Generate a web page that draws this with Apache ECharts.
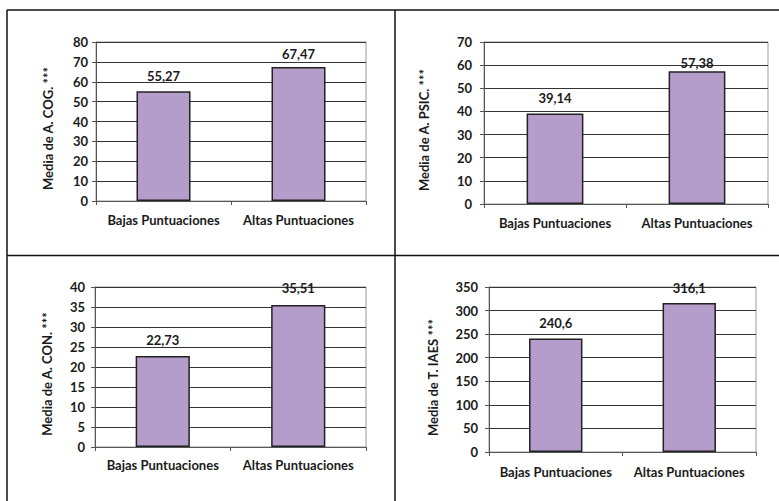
<!DOCTYPE html>
<html>
<head>
<meta charset="utf-8">
<script src="https://cdn.jsdelivr.net/npm/echarts@6/dist/echarts.min.js"></script>
<style>
html,body{margin:0;padding:0;background:#fff;}
#c{width:779px;height:501px;}
</style>
</head>
<body>
<div id="c"></div>
<script>
const categories = ['Bajas Puntuaciones', 'Altas Puntuaciones'];
const cogValues = [55.27, 67.47];
const psicValues = [39.14, 57.38];
const conValues = [22.73, 35.51];
const iaesValues = [240.6, 316.1];
const yTitles = ['Media de A. COG. ***', 'Media de A. PSIC. ***', 'Media de A. CON. ***', 'Media de T. IAES ***'];
const yMax = [80, 70, 40, 350];
const yStep = [10, 10, 5, 50];

const seriesValues = [cogValues, psicValues, conValues, iaesValues];
const grids = [
  {left: 96, top: 42, width: 270, height: 159},
  {left: 484, top: 42, width: 284, height: 162},
  {left: 95, top: 287, width: 271, height: 160},
  {left: 489, top: 287, width: 267, height: 165}
];
const nameGaps = [42, 54, 42, 50];
const nameShift = [14, 14, 14, 16];
const yMargins = [8, 12, 10, 11];
const catMargins = [12, 12, 11, 13];
const labelDist = [[9, 6], [9, 2], [10, 10], [9, 8]];

const FONT = 'Lato';
const FS = 13;
const TXT = '#1a1a1a';

const chart = echarts.init(document.getElementById('c'), null, {renderer: 'svg'});

const option = {
  animation: false,
  grid: grids.map(g => Object.assign({}, g, {show: true, borderColor: '#9a9a9a', borderWidth: 1, containLabel: false})),
  xAxis: grids.map((g, i) => ({
    type: 'category', gridIndex: i, data: categories,
    axisLine: {lineStyle: {color: '#555', width: 1}},
    axisTick: {show: true, length: 4, lineStyle: {color: '#555'}},
    axisLabel: {color: TXT, fontFamily: FONT, fontWeight: 'bold', fontSize: FS, margin: catMargins[i], interval: 0},
    splitLine: {show: false}
  })),
  yAxis: grids.map((g, i) => ({
    type: 'value', gridIndex: i, min: 0, max: yMax[i], interval: yStep[i],
    name: yTitles[i], nameLocation: 'middle', nameGap: nameGaps[i], nameRotate: 90,
    nameTextStyle: {color: TXT, fontFamily: FONT, fontWeight: 'bold', fontSize: FS, padding: [0, nameShift[i], 0, 0]},
    axisLine: {show: true, lineStyle: {color: '#555', width: 1}},
    axisTick: {show: true, length: 4, lineStyle: {color: '#555'}},
    axisLabel: {color: TXT, fontFamily: FONT, fontWeight: 'bold', fontSize: FS, margin: yMargins[i]},
    splitLine: {show: true, lineStyle: {color: '#333', width: 1}}
  })),
  series: seriesValues.map((vals, i) => ({
    type: 'bar', xAxisIndex: i, yAxisIndex: i, barWidth: '40%',
    data: vals.map((v, j) => ({value: v, label: {distance: labelDist[i][j]}})),
    itemStyle: {color: '#b49ccb', borderColor: '#222', borderWidth: 1.5},
    label: {
      show: true, position: 'top', color: TXT, fontFamily: FONT, fontWeight: 'bold', fontSize: FS,
      formatter: p => String(p.value).replace('.', ',')
    }
  })),
  graphic: [
    {type: 'line', shape: {x1: 7, y1: 10, x2: 779, y2: 10}, style: {stroke: '#111', lineWidth: 1.5}},
    {type: 'line', shape: {x1: 7, y1: 10, x2: 7, y2: 501}, style: {stroke: '#111', lineWidth: 1.5}},
    {type: 'line', shape: {x1: 395, y1: 10, x2: 395, y2: 501}, style: {stroke: '#111', lineWidth: 1.5}},
    {type: 'line', shape: {x1: 7, y1: 255.5, x2: 779, y2: 255.5}, style: {stroke: '#111', lineWidth: 1.5}}
  ]
};
chart.setOption(option);
</script>
</body>
</html>
